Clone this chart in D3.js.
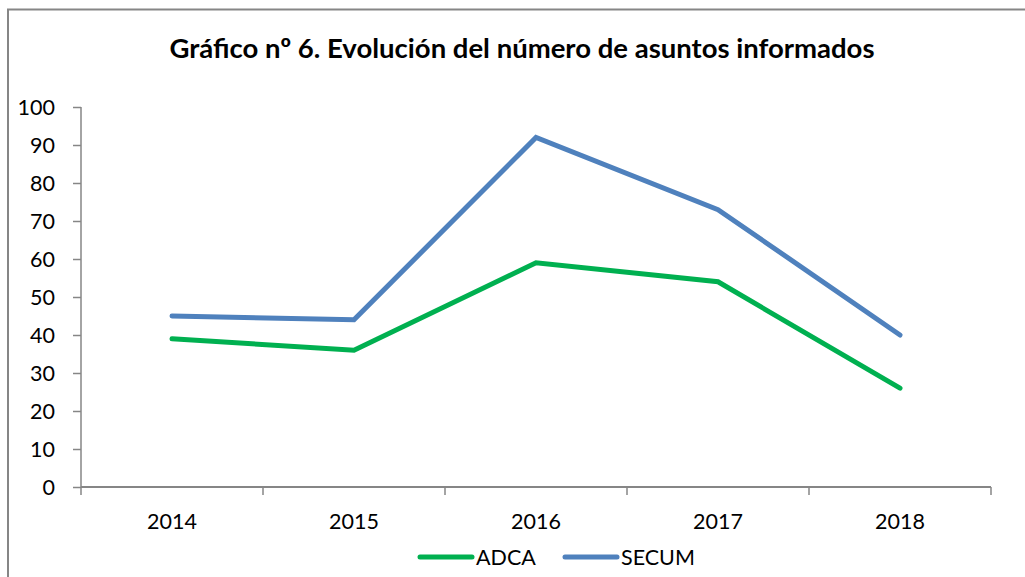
<!DOCTYPE html>
<html>
<head>
<meta charset="utf-8">
<script src="https://cdn.jsdelivr.net/npm/d3@7"></script>
<style>
  body { margin: 0; background: #fff; }
  svg { display: block; font-family: Lato, "Open Sans", sans-serif; }
</style>
</head>
<body>
<svg id="chart" width="1025" height="577"></svg>
<script>
// data
const years = ["2014", "2015", "2016", "2017", "2018"];
const adca = [39, 36, 59, 54, 26];
const secum = [45, 44, 92, 73, 40];
const yTicks = [0, 10, 20, 30, 40, 50, 60, 70, 80, 90, 100];
const seriesNames = ["ADCA", "SECUM"];
const seriesColors = ["#00B050", "#4F81BD"];

const title = "Gráfico nº 6. Evolución del número de asuntos informados";

const svg = d3.select("#chart");
const axisColor = "#868686";
const labelSize = 21.5;

// outer frame (runs past the right and bottom edges)
svg.append("rect")
  .attr("x", 8).attr("y", 9.5)
  .attr("width", 1040).attr("height", 600)
  .attr("fill", "none")
  .attr("stroke", axisColor)
  .attr("stroke-width", 2);

svg.append("text")
  .attr("x", 522).attr("y", 58)
  .attr("text-anchor", "middle")
  .attr("font-weight", "bold")
  .attr("font-size", 27.5)
  .attr("fill", "#000")
  .text(title);

const x = d3.scaleBand().domain(years).range([81, 991]);
const y = d3.scaleLinear().domain([0, 100]).range([487, 107]);

// y axis
const yAxis = svg.append("g")
  .attr("transform", "translate(81,0)")
  .call(d3.axisLeft(y).tickValues(yTicks).tickSize(8).tickPadding(18).tickFormat(d3.format("d")));
yAxis.select(".domain").attr("stroke", axisColor).attr("stroke-width", 1.5)
  .attr("d", `M0,${y(100)}V${y(0)}`);
yAxis.selectAll(".tick line").attr("stroke", axisColor).attr("stroke-width", 1.5);
yAxis.selectAll(".tick text").attr("font-size", labelSize).attr("fill", "#000")
  .attr("font-family", "Lato, sans-serif").attr("dy", "0.36em");

// x axis with ticks at category boundaries
const xAxisG = svg.append("g").attr("transform", `translate(0,${y(0)})`);
xAxisG.append("line")
  .attr("x1", x.range()[0]).attr("x2", x.range()[1])
  .attr("stroke", axisColor).attr("stroke-width", 2);
const bounds = years.map(d => x(d)).concat([x.range()[1]]);
xAxisG.selectAll(".xtick").data(bounds).join("line")
  .attr("class", "xtick")
  .attr("x1", d => d).attr("x2", d => d)
  .attr("y1", 0).attr("y2", 8)
  .attr("stroke", axisColor).attr("stroke-width", 1.5);
xAxisG.selectAll(".xlabel").data(years).join("text")
  .attr("class", "xlabel")
  .attr("x", d => x(d) + x.bandwidth() / 2)
  .attr("y", 42)
  .attr("text-anchor", "middle")
  .attr("font-size", labelSize)
  .attr("fill", "#000")
  .text(d => d);

// lines
const line = d3.line()
  .x((d, i) => x(years[i]) + x.bandwidth() / 2)
  .y(d => y(d));

[adca, secum].forEach((vals, i) => {
  svg.append("path")
    .datum(vals)
    .attr("fill", "none")
    .attr("stroke", seriesColors[i])
    .attr("stroke-width", 5)
    .attr("stroke-linejoin", "miter")
    .attr("stroke-linecap", "round")
    .attr("d", line);
});

// legend
const legendX = [420, 565];
seriesNames.forEach((name, i) => {
  const g = svg.append("g").attr("transform", `translate(${legendX[i]},557)`);
  g.append("line")
    .attr("x1", 0).attr("x2", 52)
    .attr("stroke", seriesColors[i])
    .attr("stroke-width", 5)
    .attr("stroke-linecap", "round");
  g.append("text")
    .attr("x", 56).attr("y", 8)
    .attr("font-size", labelSize)
    .attr("fill", "#000")
    .text(name);
});
</script>
</body>
</html>
